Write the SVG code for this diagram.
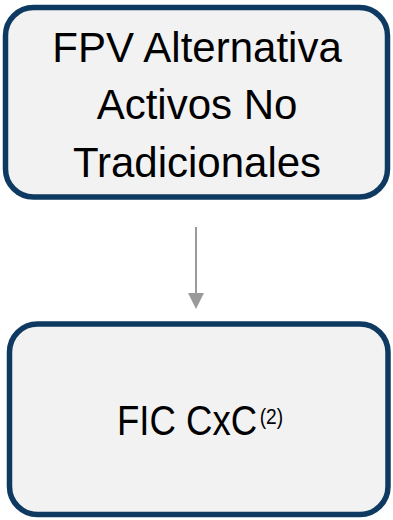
<svg xmlns="http://www.w3.org/2000/svg" width="393" height="520" viewBox="0 0 393 520">
<style>
.box{fill:#f2f2f2;stroke:#0e3a62;stroke-width:5.5}
.t{font-family:"Liberation Sans",Arial,sans-serif;font-size:42px;fill:#000;text-anchor:middle}
.sup{font-size:22px}
.conn{stroke:#9a9a9a;stroke-width:2;fill:none}
</style>
<rect width="393" height="520" fill="#fff"/>
<g id="connectors">
<line class="conn" x1="196" y1="227" x2="196" y2="294"/>
<polygon points="188,293 204,293 196,309" fill="#9a9a9a"/>
</g>
<g id="node1">
<rect class="box" x="5.5" y="7.5" width="382" height="189.5" rx="28" ry="28"/>
<text class="t" x="197" y="62">FPV Alternativa</text>
<text class="t" x="197" y="119">Activos No</text>
<text class="t" x="197" y="177">Tradicionales</text>
</g>
<g id="node2">
<rect class="box" x="9.5" y="324" width="378.5" height="190.5" rx="28" ry="28"/>
<text class="t" transform="translate(117 435) scale(0.87 1)" x="0" y="0" style="text-anchor:start">FIC CxC<tspan class="sup" dx="3" dy="-11">(2)</tspan></text>
</g>
</svg>
